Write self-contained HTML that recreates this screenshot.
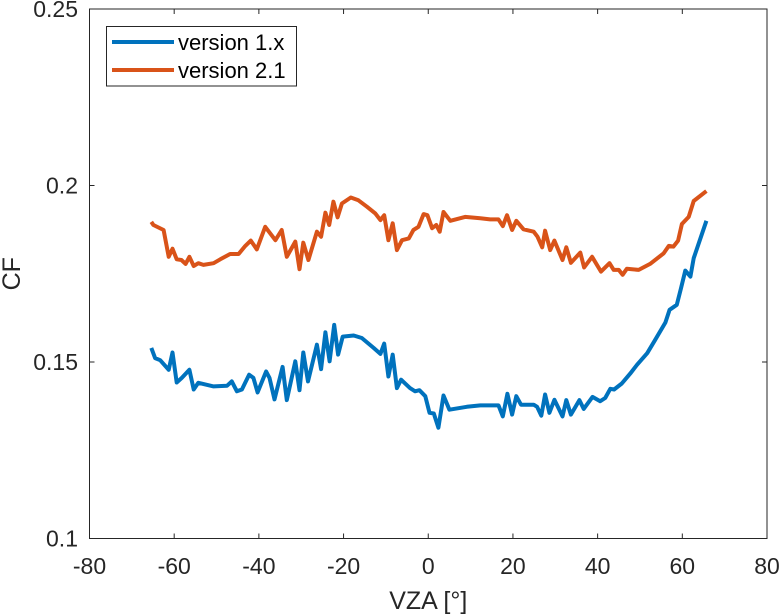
<!DOCTYPE html>
<html><head><meta charset="utf-8"><style>
html,body{margin:0;padding:0;background:#fff;}
svg{display:block;font-family:"Liberation Sans",Arial,sans-serif;}
</style></head><body>
<svg id="chart" width="781" height="616" viewBox="0 0 781 616" xmlns="http://www.w3.org/2000/svg">
<g id="axes"></g>
<g id="series"></g>
<g id="legend">
  <rect x="106.5" y="26.5" width="190" height="59.5" fill="#fff" stroke="#262626" stroke-width="1"/>
  <line x1="112" y1="42" x2="174" y2="42" stroke="#0072BD" stroke-width="4"/>
  <text x="178" y="50" font-size="22" fill="#000">version 1.x</text>
  <line x1="112" y1="70" x2="174" y2="70" stroke="#D95319" stroke-width="4"/>
  <text x="178" y="78" font-size="22" fill="#000">version 2.1</text>
</g>
</svg>
<script>
const xTicks = [-80,-60,-40,-20,0,20,40,60,80];
const yTicks = [0.1,0.15,0.2,0.25];
const yTickLabels = ["0.1","0.15","0.2","0.25"];
const v1x_x = [-65.4,-64.5,-63.3,-61.3,-60.4,-59.4,-58.2,-56.4,-55.4,-54.3,-50.7,-47.5,-46.4,-45.2,-44.0,-42.3,-41.3,-40.3,-38.3,-37.5,-36.3,-34.4,-33.4,-31.4,-30.4,-29.5,-28.4,-26.3,-25.3,-24.3,-23.3,-22.2,-21.3,-20.2,-17.6,-15.7,-12.9,-11.3,-10.4,-9.4,-8.4,-7.4,-6.4,-4.3,-3.1,-2.1,-0.7,0.3,1.3,2.4,3.6,5.0,9.1,12.3,16.6,17.6,18.7,19.8,20.8,21.9,24.9,25.7,26.7,27.6,28.6,29.8,31.7,32.6,33.7,35.7,36.7,38.8,40.6,41.8,43.0,43.9,45.7,47.7,49.3,51.7,53.6,56.0,57.0,58.7,59.7,60.7,61.9,62.7,65.7];
const v1x_y = [0.1540,0.1511,0.1505,0.1478,0.1527,0.1442,0.1455,0.1478,0.1422,0.1441,0.1431,0.1433,0.1445,0.1417,0.1422,0.1464,0.1455,0.1414,0.1473,0.1455,0.1394,0.1486,0.1392,0.1502,0.1420,0.1527,0.1445,0.1549,0.1480,0.1584,0.1502,0.1605,0.1521,0.1572,0.1575,0.1568,0.1540,0.1523,0.1552,0.1459,0.1521,0.1426,0.1450,0.1426,0.1417,0.1420,0.1403,0.1356,0.1354,0.1314,0.1405,0.1365,0.1373,0.1377,0.1377,0.1346,0.1410,0.1351,0.1403,0.1379,0.1379,0.1373,0.1348,0.1408,0.1356,0.1393,0.1346,0.1392,0.1351,0.1392,0.1367,0.1401,0.1389,0.1398,0.1424,0.1422,0.1439,0.1467,0.1492,0.1525,0.1563,0.1612,0.1648,0.1662,0.1709,0.1759,0.1742,0.1794,0.1900];
const v21_x = [-65.4,-64.9,-63.7,-62.5,-61.3,-60.4,-59.4,-58.3,-57.3,-56.4,-55.4,-54.3,-53.1,-50.7,-49.1,-46.8,-44.8,-43.2,-41.9,-40.5,-38.5,-36.1,-34.6,-33.4,-31.4,-30.4,-29.5,-28.3,-26.3,-25.3,-24.3,-23.4,-22.4,-21.4,-20.4,-18.3,-16.5,-14.5,-12.5,-11.3,-10.4,-9.4,-8.4,-7.4,-6.2,-4.6,-3.5,-2.3,-1.1,-0.2,0.9,1.9,2.7,3.6,5.2,8.7,12.3,14.6,16.6,17.6,18.6,19.8,20.8,22.5,24.9,25.8,26.9,27.6,28.8,29.8,31.7,32.6,33.7,35.9,36.8,38.7,40.8,42.8,43.8,45.0,45.9,46.9,49.7,52.4,55.6,56.8,57.9,59.0,59.9,61.5,62.7,65.7];
const v21_y = [0.1897,0.1888,0.1881,0.1874,0.1798,0.1821,0.1791,0.1789,0.1778,0.1798,0.1772,0.1780,0.1775,0.1780,0.1791,0.1806,0.1806,0.1829,0.1844,0.1819,0.1883,0.1845,0.1874,0.1798,0.1841,0.1763,0.1838,0.1789,0.1869,0.1855,0.1923,0.1888,0.1954,0.1910,0.1949,0.1966,0.1958,0.1940,0.1921,0.1902,0.1916,0.1845,0.1893,0.1817,0.1845,0.1850,0.1874,0.1883,0.1919,0.1916,0.1879,0.1888,0.1869,0.1925,0.1900,0.1911,0.1907,0.1904,0.1904,0.1885,0.1916,0.1874,0.1900,0.1876,0.1869,0.1855,0.1825,0.1872,0.1817,0.1844,0.1789,0.1825,0.1781,0.1810,0.1768,0.1798,0.1756,0.1780,0.1761,0.1761,0.1747,0.1764,0.1761,0.1778,0.1808,0.1829,0.1827,0.1844,0.1891,0.1911,0.1956,0.1984];

const L=89.5,R=767,T=9,B=538.5;
const xs=v=>L+(v+80)/160*(R-L);
const ys=v=>B-(v-0.1)/0.15*(B-T);
const NS="http://www.w3.org/2000/svg";
function mk(tag,attrs,parent){const e=document.createElementNS(NS,tag);for(const k in attrs)e.setAttribute(k,attrs[k]);parent.appendChild(e);return e;}
const axes=document.getElementById('axes');
const frame=mk('rect',{x:L,y:T,width:R-L,height:B-T,fill:'none',stroke:'#262626','stroke-width':1},axes);


xTicks.forEach(t=>{
  const x=xs(t);
  const a=mk('line',{x1:x,y1:B,x2:x,y2:B-5,stroke:'#262626'},axes);
  
  
  const b=mk('line',{x1:x,y1:T,x2:x,y2:T+5,stroke:'#262626'},axes);
  
  
  const tx=mk('text',{x:x,y:574,'font-size':23,'text-anchor':'middle',fill:'#262626'},axes);
  tx.textContent=String(t);
  
  
});
yTicks.forEach((t,i)=>{
  const y=ys(t);
  const a=mk('line',{x1:L,y1:y,x2:L+5,y2:y,stroke:'#262626'},axes);
  
  
  const b=mk('line',{x1:R,y1:y,x2:R-5,y2:y,stroke:'#262626'},axes);
  
  
  const tx=mk('text',{x:78,y:y+8,'font-size':23,'text-anchor':'end',fill:'#262626'},axes);
  tx.textContent=yTickLabels[i];
  
  
});
const xl=mk('text',{x:(L+R)/2,y:609,'font-size':25,'text-anchor':'middle',fill:'#262626'},axes);
xl.textContent='VZA [°]';


const yl=mk('text',{x:0,y:0,'font-size':25,'text-anchor':'middle',fill:'#262626',transform:'translate(20,'+((T+B)/2)+') rotate(-90)'},axes);
yl.textContent='CF';


const series=document.getElementById('series');
function line(xa,ya,color,name){
  const d=xa.map((v,i)=>(i?'L':'M')+xs(v).toFixed(1)+','+ys(ya[i]).toFixed(1)).join('');
  const p=mk('path',{d:d,fill:'none',stroke:color,'stroke-width':4,'stroke-linejoin':'round'},series);
  
  
}
line(v1x_x,v1x_y,'#0072BD','line-version-1x');
line(v21_x,v21_y,'#D95319','line-version-2-1');
</script>
</body></html>
